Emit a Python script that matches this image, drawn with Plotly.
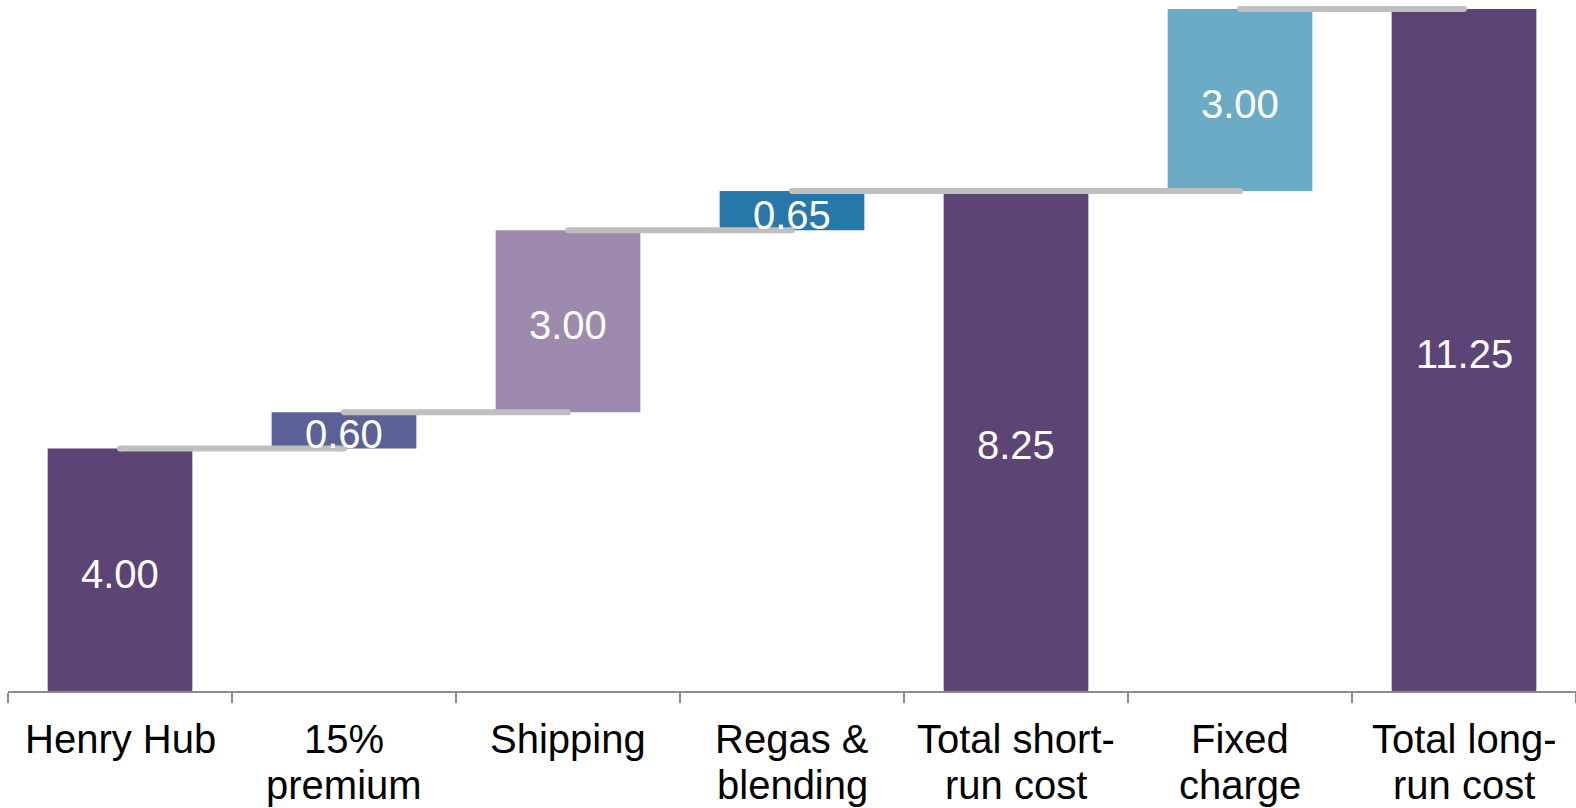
import plotly.graph_objects as go

categories = ["Henry Hub", "15% premium", "Shipping", "Regas & blending",
              "Total short-run cost", "Fixed charge", "Total long-run cost"]
label_line1 = ["Henry Hub", "15%", "Shipping", "Regas &", "Total short-", "Fixed", "Total long-"]
label_line2 = ["", "premium", "", "blending", "run cost", "charge", "run cost"]
values = [4.00, 0.60, 3.00, 0.65, 8.25, 3.00, 11.25]
is_total = [True, False, False, False, True, False, True]
colors = ["#5D4477", "#5B6196", "#9E8AAF", "#2777A9", "#5D4477", "#6CABC5", "#5D4477"]

FONT = "Liberation Sans, Arial, sans-serif"

# compute bases (running total)
bases = []
running = 0.0
for v, t in zip(values, is_total):
    if t:
        bases.append(0.0)
        running = v
    else:
        bases.append(running)
        running += v
tops = [b + v for b, v in zip(bases, values)]

fig = go.Figure()
fig.add_trace(go.Bar(
    x=categories, y=values, base=bases, width=0.646,
    marker=dict(color=colors, line=dict(width=0)),
    hoverinfo="skip", showlegend=False,
))

# connectors: from center of bar i to center of next bar at the running level
conn_color = "#BFBFBF"
for i in range(len(categories) - 1):
    level = tops[i]
    fig.add_trace(go.Scatter(
        x=[categories[i], categories[i + 1]], y=[level, level],
        mode="lines+markers", line=dict(color=conn_color, width=6),
        marker=dict(color=conn_color, size=6, line=dict(width=0)),
        hoverinfo="skip", showlegend=False,
    ))

annotations = []
for c, b, v in zip(categories, bases, values):
    annotations.append(dict(x=c, xref="x", y=b + v / 2, yref="y", text=f"{v:.2f}",
                            showarrow=False, yanchor="middle", xanchor="center", yshift=-4,
                            font=dict(size=40, color="white", family=FONT)))

for c, l1, l2 in zip(categories, label_line1, label_line2):
    annotations.append(dict(x=c, xref="x", y=0, yref="paper", text=l1, showarrow=False,
                            yanchor="middle", xanchor="center", yshift=-48,
                            font=dict(size=40, color="black", family=FONT)))
    if l2:
        annotations.append(dict(x=c, xref="x", y=0, yref="paper", text=l2, showarrow=False,
                                yanchor="middle", xanchor="center", yshift=-94,
                                font=dict(size=40, color="black", family=FONT)))

fig.update_layout(
    width=1576, height=808,
    margin=dict(l=8, r=0, t=0, b=117),
    plot_bgcolor="white", paper_bgcolor="white",
    annotations=annotations,
    xaxis=dict(type="category", showticklabels=False, showline=True, linecolor="#8C8C8C",
               linewidth=2, ticks="outside", tickson="boundaries", ticklen=10,
               tickcolor="#8C8C8C", tickwidth=2, showgrid=False, zeroline=False,
               range=[-0.5, 6.5], fixedrange=True),
    yaxis=dict(visible=False, range=[0, 11.4], showgrid=False, zeroline=False),
    font=dict(family=FONT),
)

fig.write_html("out.html")
